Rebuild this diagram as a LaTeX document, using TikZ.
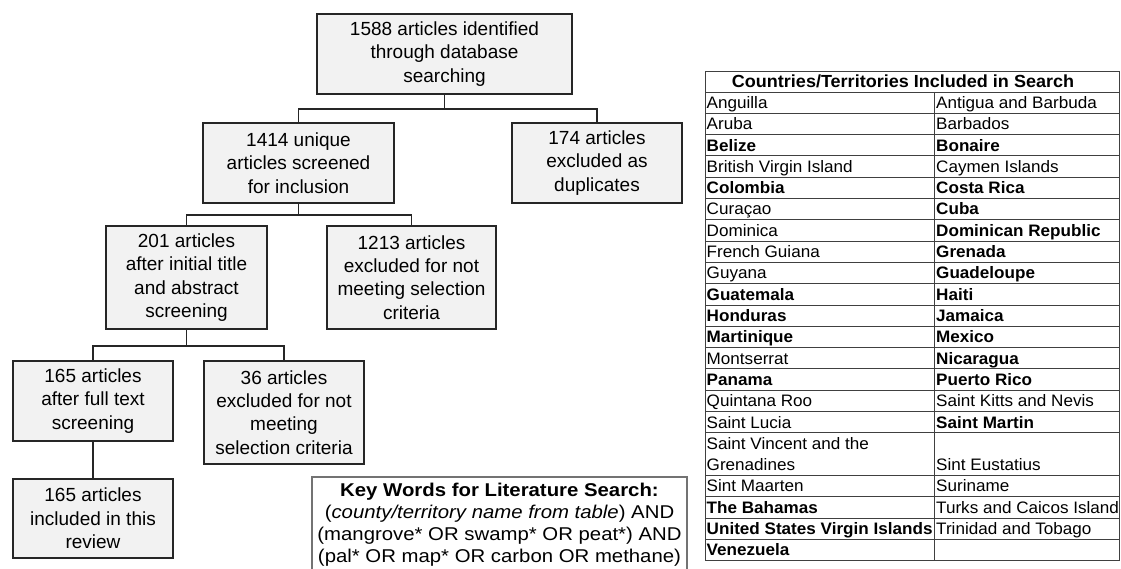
\documentclass[tikz,border=0pt]{standalone}
\usepackage{fontspec}
\setmainfont{Liberation Sans}
\newfontfamily\tabfont[FakeStretch=1.03]{Liberation Sans}
\newfontfamily\keyfont[FakeStretch=1.1]{Liberation Sans}
\usepackage{tikz}

\begin{document}
\begin{tikzpicture}[x=1pt,y=-1pt,
            stage/.style={draw=black!85,line width=1.6pt,fill=gray!10,align=center,inner sep=0pt,
                font=\fontsize{19}{23.3}\selectfont},
            link/.style={draw=black!85,line width=1.8pt},
            grid/.style={draw=black!75,line width=0.9pt},
            cell/.style={anchor=base west,inner sep=0pt,font=\tabfont\fontsize{16.6}{19}\selectfont}]
            \useasboundingbox (0,0) rectangle (1121,569);
            \node[stage,minimum width=255pt,minimum height=80pt] (found) at (444.5,54) {1588 articles identified\\through database\\searching};
            \node[stage,minimum width=191pt,minimum height=80pt] (unique) at (298.5,163) {1414 unique\\articles screened\\for inclusion};
            \node[stage,minimum width=170pt,minimum height=80pt] (dupl) at (597,163) {174 articles\\excluded as\\duplicates};
            \node[stage,minimum width=161pt,minimum height=103pt] (title) at (186.5,277.5) {201 articles\\after initial title\\and abstract\\screening};
            \node[stage,minimum width=169pt,minimum height=103pt] (notmet) at (411.5,277.5) {1213 articles\\excluded for not\\meeting selection\\criteria};
            \node[stage,minimum width=160pt,minimum height=80pt] (full) at (93,401) {165 articles\\after full text\\screening};
            \node[stage,minimum width=160pt,minimum height=103pt] (notmet2) at (284,412.5) {36 articles\\excluded for not\\meeting\\selection criteria};
            \node[stage,minimum width=160pt,minimum height=79pt] (review) at (93,518.5) {165 articles\\included in this\\review};
            \draw[link] (found.south) -- ++(0,14) coordinate (fork1) -| (unique.north);
            \draw[link] (fork1) -| (dupl.north);
            \draw[link] (unique.south) -- ++(0,11) coordinate (fork2) -| (title.north);
            \draw[link] (fork2) -| (notmet.north);
            \draw[link] (title.south) -- ++(0,16) coordinate (fork3) -| (full.north);
            \draw[link] (fork3) -| (notmet2.north);
            \draw[link] (full) -- (review);
            \node[draw=black!55,line width=1.1pt,minimum width=375pt,minimum height=95pt,align=center,inner sep=0pt,
                font=\keyfont\fontsize{18.5}{22}\selectfont] (keys) at (499.5,524.5)
                {\textbf{Key Words for Literature Search:}\\(\textit{county/territory name from table}) AND\\(mangrove* OR swamp* OR peat*) AND\\(pal* OR map* OR carbon OR methane)};
            \draw[grid] (705,71) rectangle (1119,560.6);
            \draw[grid] (934,92) -- (934,560.6);
            \foreach \k in {0,...,16}
                \draw[grid] (705,92+\k*21.3) -- (1119,92+\k*21.3);
            \foreach \k in {18,...,21}
                \draw[grid] (705,92+\k*21.3) -- (1119,92+\k*21.3);
            \node[anchor=base,inner sep=0pt,font=\tabfont\bfseries\fontsize{17.5}{19}\selectfont] (head) at (903,88) {Countries/Territories Included in Search};
            \foreach \l/\r [count=\i from 0] in {Anguilla/Antigua and Barbuda, Aruba/Barbados, \textbf{Belize}/\textbf{Bonaire},
                British Virgin Island/Caymen Islands, \textbf{Colombia}/\textbf{Costa Rica}, Curaçao/\textbf{Cuba},
                Dominica/\textbf{Dominican Republic}, French Guiana/\textbf{Grenada}, Guyana/\textbf{Guadeloupe},
                \textbf{Guatemala}/\textbf{Haiti}, \textbf{Honduras}/\textbf{Jamaica}, \textbf{Martinique}/\textbf{Mexico},
                Montserrat/\textbf{Nicaragua}, \textbf{Panama}/\textbf{Puerto Rico}, Quintana Roo/Saint Kitts and Nevis,
                Saint Lucia/\textbf{Saint Martin}}
            {
                \node[cell] (left\i) at (706.5,92+\i*21.3+16.5) {\l};
                \node[cell] (right\i) at (936,92+\i*21.3+16.5) {\r};
            }
            \node[cell] (left16) at (706.5,92+16*21.3+16.5) {Saint Vincent and the};
            \node[cell] (left17) at (706.5,92+17*21.3+16.5) {Grenadines};
            \node[cell] (right17) at (936,92+17*21.3+16.5) {Sint Eustatius};
            \foreach \l [count=\i from 18] in {Sint Maarten, \textbf{The Bahamas}, \textbf{United States Virgin Islands}, \textbf{Venezuela}}
                \node[cell] (left\i) at (706.5,92+\i*21.3+16.5) {\l};
            \begin{scope}
                \clip (934,71) rectangle (1118.5,561);
                \foreach \r [count=\i from 18] in {Suriname, Turks and Caicos Islands, Trinidad and Tobago}
                    \node[cell] (right\i) at (936,92+\i*21.3+16.5) {\r};
            \end{scope}
\end{tikzpicture}
\end{document}
